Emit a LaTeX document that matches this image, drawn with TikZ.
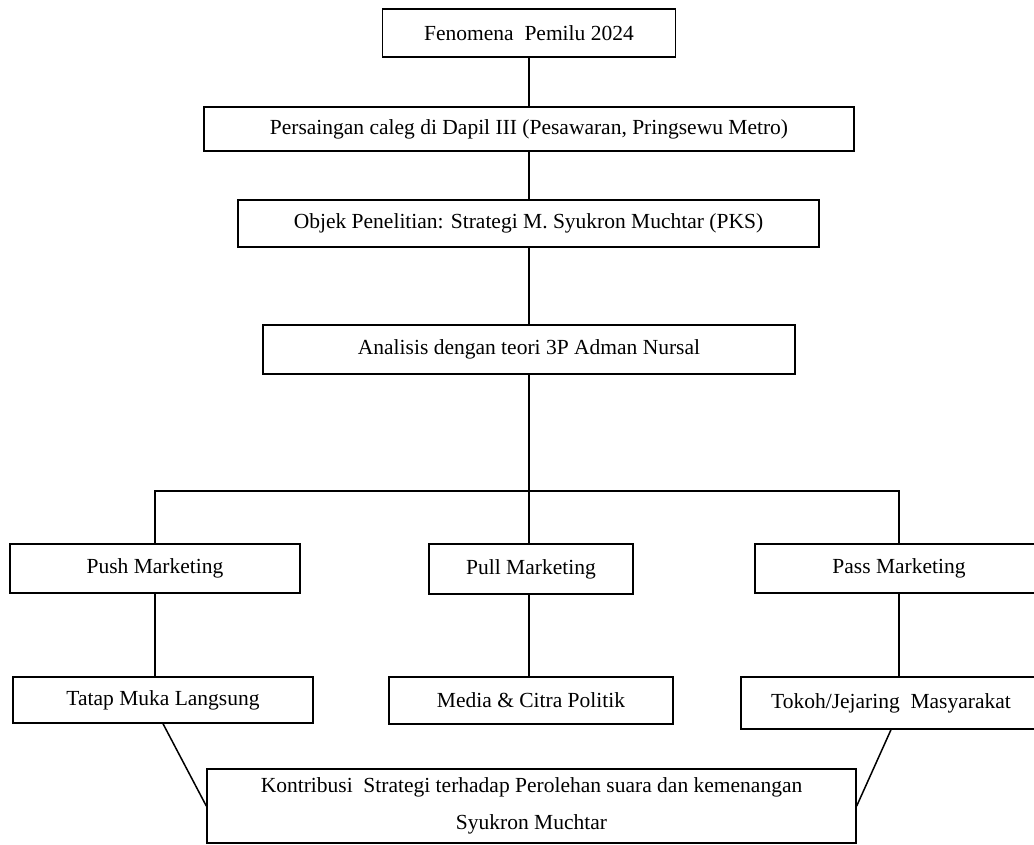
\documentclass[tikz,border=0pt]{standalone}
\usepackage{fontspec}
\setmainfont{Liberation Serif}
\begin{document}
\begin{tikzpicture}[x=1pt,y=-1pt,
  box/.style={draw=black,line width=1.4pt,rectangle,inner sep=0pt,anchor=center,
    font=\fontsize{21.5}{37}\selectfont,align=center},
  link/.style={draw=black,line width=1.5pt}]
\useasboundingbox (0,0) rectangle (1034,844);
\clip (0,0) rectangle (1034,844);
\node[box,minimum width=293pt,minimum height=48pt] (fen) at (529,33) {Fenomena\ \ Pemilu 2024};
\node[box,minimum width=650pt,minimum height=44pt] (per) at (529,129) {Persaingan caleg di Dapil III (Pesawaran, Pringsewu Metro)};
\node[box,minimum width=581pt,minimum height=47pt] (obj) at (528.5,223.5) {Objek Penelitian: Strategi M. Syukron Muchtar (PKS)};
\node[box,minimum width=532pt,minimum height=49pt] (ana) at (529,349.5) {Analisis dengan teori 3P Adman Nursal};
\coordinate (bus) at (529,491);
\node[box,minimum width=290pt,minimum height=49pt] (push) at (155,568.5) {Push Marketing};
\node[box,minimum width=204pt,minimum height=50pt] (pull) at (531,569) {Pull Marketing};
\node[box,minimum width=288pt,minimum height=49pt] (pass) at (899,568.5) {Pass Marketing};
\node[box,minimum width=300pt,minimum height=46pt] (tatap) at (163,700) {Tatap Muka Langsung};
\node[box,minimum width=284pt,minimum height=47pt] (media) at (531,700.5) {Media \& Citra Politik};
\node[box,minimum width=300pt,minimum height=52pt] (tokoh) at (891,703) {Tokoh/Jejaring\ \ Masyarakat};
\node[box,minimum width=649pt,minimum height=74pt] (kon) at (531.5,806) {Kontribusi\ \ Strategi terhadap Perolehan suara dan kemenangan\\Syukron Muchtar};
% connectors
\draw[link] (fen.south) -- (per.north -| fen.south);
\draw[link] (per.south -| fen.south) -- (obj.north -| fen.south);
\draw[link] (obj.south -| fen.south) -- (ana.north -| fen.south);
\draw[link] (ana.south) -- (pull.north -| ana.south);
\draw[link] (push.north) -- (push.north |- bus) -- (pass.north |- bus) -- (pass.north);
\draw[link] (push.south) -- (push.south |- tatap.north);
\draw[link] (pull.south -| ana.south) -- (media.north -| ana.south);
\draw[link] (pass.south) -- (pass.south |- tokoh.north);
\draw[link] (tatap.south) -- (kon.west);
\draw[link] (tokoh.south) -- (kon.east);
\end{tikzpicture}
\end{document}
